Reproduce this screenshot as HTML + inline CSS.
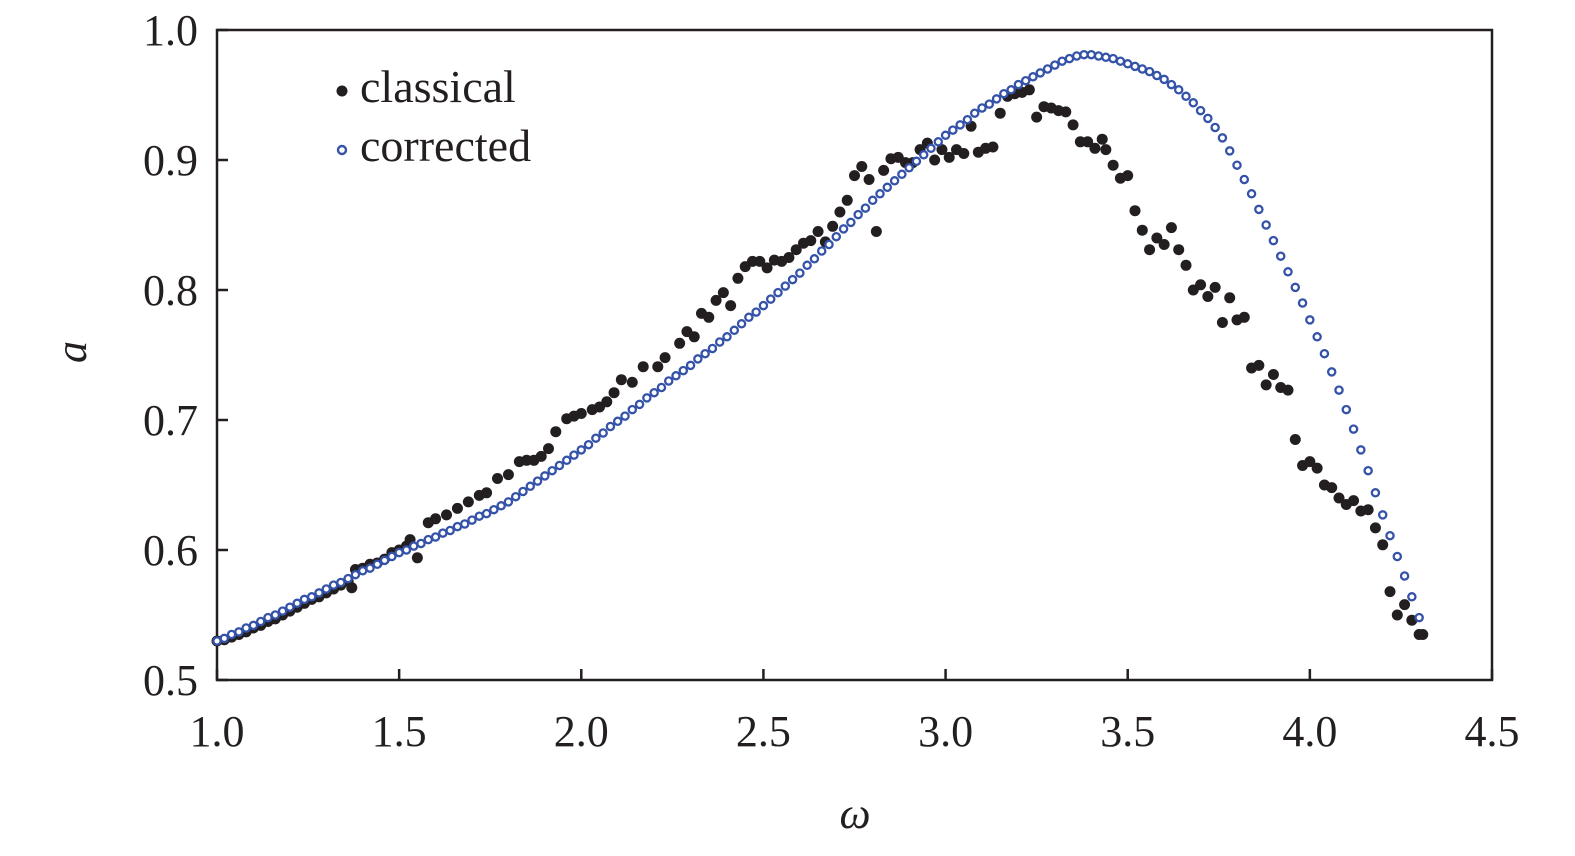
<!DOCTYPE html>
<html><head><meta charset="utf-8"><style>
html,body{margin:0;padding:0;background:#fff;}
svg text{font-family:"Liberation Serif",serif;fill:#231f20;}
</style></head><body>
<svg id="chart" width="1575" height="851" viewBox="0 0 1575 851" xmlns="http://www.w3.org/2000/svg">
<g id="axes"></g>
<g id="series-classical"></g>
<g id="series-corrected"></g>
<g id="legend">
  <circle cx="342" cy="91" r="5.5" fill="#231f20"/>
  <text x="360" y="102" font-size="46">classical</text>
  <circle cx="342" cy="150" r="4" fill="#fff" stroke="#3352a8" stroke-width="2.4"/>
  <text x="360" y="161" font-size="46">corrected</text>
</g>
<text x="855" y="828" font-size="44" font-style="italic" text-anchor="middle">ω</text>
<text x="0" y="0" font-size="44" font-style="italic" text-anchor="middle" transform="translate(86,352) rotate(-90)">a</text>
</svg>
<script>
const xTicks = [1.0,1.5,2.0,2.5,3.0,3.5,4.0,4.5];
const xTickLabels = ["1.0","1.5","2.0","2.5","3.0","3.5","4.0","4.5"];
const yTicks = [0.5,0.6,0.7,0.8,0.9,1.0];
const yTickLabels = ["0.5","0.6","0.7","0.8","0.9","1.0"];
const correctedStart = 1.0;
const correctedStep = 0.02;
const correctedValues = [
.530,.532,.535,.537,.540,.542,.545,.548,.550,.553,.556,
.559,.562,.564,.567,.570,.573,.575,.578,.581,.584,.586,.589,.592,.595,.598,
.600,.603,.605,.608,.610,.613,.615,.618,.620,.623,.626,.628,.631,.634,.637,
.641,.645,.649,.653,.657,.661,.665,.669,.673,.677,
.681,.686,.690,.695,.699,.703,.708,.712,.717,.721,
.725,.730,.734,.738,.742,.747,.751,.755,.760,.764,
.769,.774,.779,.783,.788,.793,.798,.803,.808,.813,
.819,.824,.830,.835,.841,.847,.852,.858,.863,.869,
.874,.879,.884,.889,.894,.899,.904,.909,.914,.919,
.923,.927,.931,.936,.940,.943,.947,.951,.954,.958,
.961,.964,.967,.970,.973,.976,.978,.980,.981,.981,
.980,.979,.978,.976,.974,.972,.970,.968,.965,.962,
.958,.954,.949,.944,.938,.932,.925,.917,.907,.896,
.885,.874,.862,.850,.838,.826,.814,.802,.790,.777,
.764,.751,.737,.723,.708,.693,.677,.661,.644,.627,
.611,.595,.580,.564,.548];
const classicalX = [1.00,1.02,1.04,1.06,1.08,1.10,1.12,1.14,1.16,1.18,1.20,1.22,1.24,1.26,1.28,1.30,1.32,1.34,1.36,1.37,1.38,1.40,1.42,1.44,1.46,1.48,1.50,1.52,1.53,1.55,1.58,1.60,1.63,1.66,1.69,1.72,1.74,1.77,1.80,1.83,1.85,1.87,1.89,1.91,1.93,1.96,1.98,2.00,2.03,2.05,2.07,2.09,2.11,2.14,2.17,2.21,2.23,2.27,2.29,2.31,2.33,2.35,2.37,2.39,2.41,2.43,2.45,2.47,2.49,2.51,2.53,2.55,2.57,2.59,2.61,2.63,2.65,2.67,2.69,2.71,2.73,2.75,2.77,2.79,2.81,2.83,2.85,2.87,2.89,2.91,2.93,2.95,2.97,2.99,3.01,3.03,3.05,3.07,3.09,3.11,3.13,3.15,3.17,3.19,3.21,3.23,3.25,3.27,3.29,3.31,3.33,3.35,3.37,3.39,3.41,3.43,3.44,3.46,3.48,3.50,3.52,3.54,3.56,3.58,3.60,3.62,3.64,3.66,3.68,3.70,3.72,3.74,3.76,3.78,3.80,3.82,3.84,3.86,3.88,3.90,3.92,3.94,3.96,3.98,4.00,4.02,4.04,4.06,4.08,4.10,4.12,4.14,4.16,4.18,4.20,4.22,4.24,4.26,4.28,4.30,4.31];
const classicalY = [.530,.531,.533,.535,.537,.540,.542,.545,.547,.550,.553,.556,.559,.562,.564,.567,.570,.573,.576,.571,.585,.586,.589,.590,.593,.598,.600,.603,.608,.594,.621,.624,.627,.632,.637,.642,.644,.655,.658,.668,.669,.669,.672,.678,.691,.701,.703,.705,.708,.710,.714,.721,.731,.729,.741,.741,.748,.759,.768,.764,.782,.779,.792,.798,.788,.809,.818,.822,.822,.817,.823,.822,.825,.831,.836,.838,.845,.837,.849,.860,.869,.888,.895,.885,.845,.892,.901,.902,.898,.898,.908,.913,.900,.908,.902,.908,.905,.926,.906,.909,.910,.936,.949,.951,.952,.954,.933,.941,.940,.938,.937,.927,.914,.914,.909,.916,.908,.896,.886,.888,.861,.846,.831,.840,.835,.848,.831,.819,.800,.804,.795,.802,.775,.794,.777,.779,.740,.742,.727,.735,.725,.723,.685,.665,.668,.663,.650,.648,.640,.635,.638,.630,.631,.617,.604,.568,.550,.558,.546,.535,.535];

const NS = "http://www.w3.org/2000/svg";
const X0 = 217, X1 = 1492, Y0 = 680, Y1 = 30;
function xScale(v){ return X0 + (v - 1.0) / 3.5 * (X1 - X0); }
function yScale(v){ return Y0 - (v - 0.5) / 0.5 * (Y0 - Y1); }
function mk(tag, attrs){ const e = document.createElementNS(NS, tag); for (const k in attrs) e.setAttribute(k, attrs[k]); return e; }

const axes = document.getElementById('axes');
const frame = mk('rect', {x:X0, y:Y1, width:X1-X0, height:Y0-Y1, fill:'none', stroke:'#231f20', 'stroke-width':2.5});


axes.appendChild(frame);
xTicks.forEach((t, i) => {
  const x = xScale(t);
  const tick = mk('line', {x1:x, x2:x, y1:Y0, y2:Y0-11, stroke:'#231f20', 'stroke-width':2.5});
  
  
  axes.appendChild(tick);
  const lab = mk('text', {x:x, y:746, 'font-size':44, 'text-anchor':'middle'});
  
  
  lab.textContent = xTickLabels[i];
  axes.appendChild(lab);
});
yTicks.forEach((t, i) => {
  const y = yScale(t);
  const tick = mk('line', {x1:X0, x2:X0+11, y1:y, y2:y, stroke:'#231f20', 'stroke-width':2.5});
  
  
  axes.appendChild(tick);
  const lab = mk('text', {x:198, y:y+15, 'font-size':44, 'text-anchor':'end'});
  
  
  lab.textContent = yTickLabels[i];
  axes.appendChild(lab);
});

const gc = document.getElementById('series-classical');
classicalX.forEach((xv, i) => {
  const c = mk('circle', {cx:xScale(xv), cy:yScale(classicalY[i]), r:5.5, fill:'#231f20'});
  
  
  gc.appendChild(c);
});
const gr = document.getElementById('series-corrected');
correctedValues.forEach((v, i) => {
  const xv = correctedStart + i * correctedStep;
  const c = mk('circle', {cx:xScale(xv), cy:yScale(v), r:3.6, fill:'#fff', stroke:'#3352a8', 'stroke-width':2.3});
  
  
  gr.appendChild(c);
});
</script>
</body></html>
